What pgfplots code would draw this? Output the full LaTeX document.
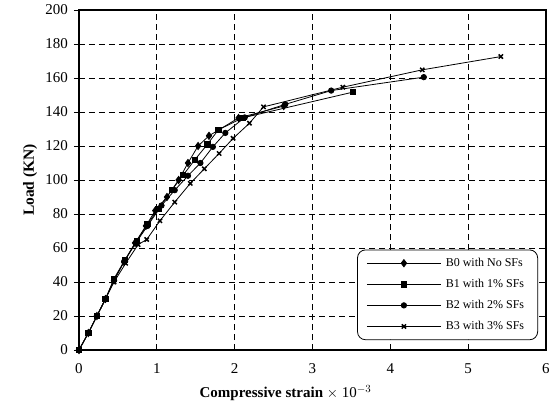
\documentclass[border=0pt]{standalone}
\usepackage{fontspec}
\setmainfont{Liberation Serif}
\usepackage{pgfplots}
\pgfplotsset{compat=1.18}

\begin{document}
\fontsize{15pt}{17pt}\selectfont
\begin{tikzpicture}
\useasboundingbox (-79pt,-63pt) rectangle (475pt,350pt);
\begin{axis}[
  at={(0pt,0pt)}, anchor=south west,
  scale only axis,
  width=467pt, height=340pt,
  xmin=0, xmax=6, ymin=0, ymax=200,
  xtick={0,1,...,6}, ytick={0,20,...,200},
  xtick pos=bottom, ytick pos=left,
  xtick align=inside, ytick align=outside,
  major tick length=5pt,
  axis line style={line width=1.1pt},
  tick style={black, line width=0.8pt},
  grid=major,
  major grid style={black, line width=0.7pt, dash pattern=on 6pt off 4pt},
  /pgf/number format/assume math mode=true,
  ticklabel style={font=\fontsize{15pt}{17pt}\selectfont},
  xticklabel style={yshift=-8pt},
  yticklabel style={xshift=-1pt},
  xlabel={\textbf{Compressive strain} $\times$ 10$^{-3}$},
  ylabel={\textbf{Load (KN)}},
  xlabel style={font=\fontsize{15pt}{17pt}\selectfont, xshift=-27pt, yshift=-2pt},
  ylabel style={font=\fontsize{15.5pt}{17pt}\selectfont, yshift=-2pt},
  every axis plot/.append style={black, line width=0.8pt},
  legend cell align=left,
  legend style={
    at={(0.983,0.029)}, anchor=south east,
    draw=black, line width=0.8pt, rounded corners=8pt,
    font=\fontsize{12pt}{14pt}\selectfont,
    row sep=6.5pt, inner xsep=9pt, inner ysep=6pt,
    nodes={inner xsep=4.5pt},
  },
  legend image code/.code={%
    \draw[mark repeat=2,mark phase=2] plot coordinates {(0pt,0pt) (37pt,0pt) (74pt,0pt)};%
  },
]
% B0 with no steel fibres
\addplot[mark=diamond*, mark size=3.6pt] coordinates {
  (0,0) (0.12,10) (0.23,20) (0.34,30) (0.45,41) (0.58,52) (0.72,63)
  (0.86,73) (0.98,82) (1.13,90) (1.28,100) (1.40,110) (1.53,120)
  (1.67,126) (2.05,136.5) (2.63,143.5)
};
\addlegendentry{B0 with No SFs}
% B1 with 1% steel fibres
\addplot[mark=square*, mark size=2.6pt] coordinates {
  (0,0) (0.12,10) (0.23,20) (0.34,30) (0.45,42) (0.59,53) (0.74,64)
  (0.88,74) (1.02,83) (1.19,94) (1.34,103) (1.49,112) (1.65,121)
  (1.79,129.5) (2.10,136.5) (3.52,151.7)
};
\addlegendentry{B1 with 1\% SFs}
% B2 with 2% steel fibres
\addplot[mark=*, mark size=2.7pt] coordinates {
  (0,0) (0.12,10) (0.23,20) (0.34,30) (0.45,41) (0.58,52) (0.73,63)
  (0.88,73) (1.06,85) (1.23,94) (1.40,102.5) (1.56,110) (1.72,119.5)
  (1.88,127.7) (2.13,136.8) (2.65,144.5) (3.24,152.6) (4.43,160.5)
};
\addlegendentry{B2 with 2\% SFs}
% B3 with 3% steel fibres
\addplot[mark=x, mark size=3pt, mark options={line width=1.5pt}] coordinates {
  (0,0) (0.12,10) (0.23,20) (0.34,30) (0.45,40) (0.60,51) (0.76,62)
  (0.87,65) (1.04,76) (1.23,87) (1.43,98) (1.61,106.6) (1.80,115.6)
  (1.98,124.5) (2.19,133.4) (2.37,143) (3.39,154.6) (4.41,164.8) (5.42,172.6)
};
\addlegendentry{B3 with 3\% SFs}
\end{axis}
\end{tikzpicture}
\end{document}
